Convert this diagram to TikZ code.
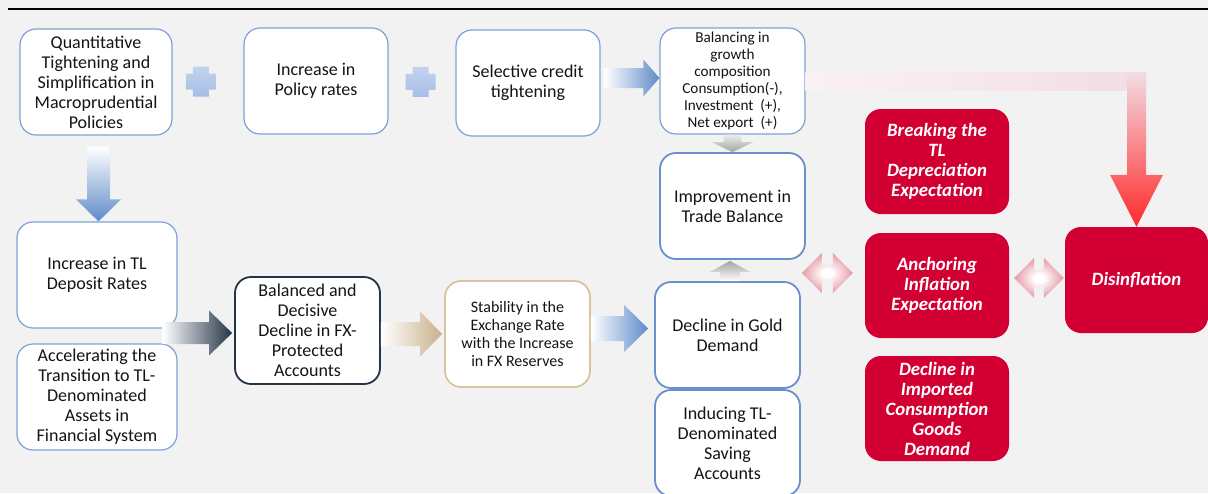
\documentclass[tikz,border=0pt]{standalone}
\usepackage{fontspec}
\setmainfont{Carlito}
\usetikzlibrary{calc}
\definecolor{bg}{HTML}{F2F2F2}
\definecolor{bl}{HTML}{7EA2D8}
\definecolor{bltwo}{HTML}{6990CC}
\definecolor{dk}{HTML}{243447}
\definecolor{tanc}{HTML}{D9C4A0}
\definecolor{rd}{HTML}{D20032}
\definecolor{txt}{HTML}{141414}
\definecolor{arrblue}{HTML}{5F8BC9}
\definecolor{arrtan}{HTML}{C9B08A}
\definecolor{lp}{HTML}{F2DDE4}
\definecolor{rr}{HTML}{FF2A2A}
\definecolor{dbl}{HTML}{DC7485}
\definecolor{gtop}{HTML}{EDEDED}
\definecolor{gbot}{HTML}{A3A3A3}
\definecolor{plusa}{HTML}{C3D3EE}
\definecolor{plusb}{HTML}{A6BDE5}
\pgfdeclareradialshading{dblshade}{\pgfpoint{0bp}{0bp}}{color(0bp)=(white); color(5bp)=(white); color(32bp)=(dbl); color(50bp)=(dbl)}
% horizontal block arrow: start, end, body half, head half, head length, shade options
\newcommand\hblock[6]{\shade[#6] let \p1=#1, \p2=#2 in
  (\x1,\y1+#3pt) -- (\x2-#5pt,\y1+#3pt) -- (\x2-#5pt,\y1+#4pt) -- (\x2,\y1)
  -- (\x2-#5pt,\y1-#4pt) -- (\x2-#5pt,\y1-#3pt) -- (\x1,\y1-#3pt) -- cycle;}
% downward block arrow
\newcommand\dnblock[6]{\shade[#6] let \p1=#1, \p2=#2 in
  (\x1-#3pt,\y1) -- (\x1-#3pt,\y2+#5pt) -- (\x1-#4pt,\y2+#5pt) -- (\x1,\y2)
  -- (\x1+#4pt,\y2+#5pt) -- (\x1+#3pt,\y2+#5pt) -- (\x1+#3pt,\y1) -- cycle;}
% upward block arrow
\newcommand\upblock[6]{\shade[#6] let \p1=#1, \p2=#2 in
  (\x1-#3pt,\y1) -- (\x1-#3pt,\y2-#5pt) -- (\x1-#4pt,\y2-#5pt) -- (\x1,\y2)
  -- (\x1+#4pt,\y2-#5pt) -- (\x1+#3pt,\y2-#5pt) -- (\x1+#3pt,\y1) -- cycle;}
% double block arrow
\newcommand\dblblock[5]{\shade[shading=dblshade] let \p1=#1, \p2=#2 in
  (\x1,\y1) -- (\x1+#5pt,\y1+#4pt) -- (\x1+#5pt,\y1+#3pt) -- (\x2-#5pt,\y1+#3pt)
  -- (\x2-#5pt,\y1+#4pt) -- (\x2,\y1) -- (\x2-#5pt,\y1-#4pt) -- (\x2-#5pt,\y1-#3pt)
  -- (\x1+#5pt,\y1-#3pt) -- (\x1+#5pt,\y1-#4pt) -- cycle;}
% plus sign
\newcommand\plussign[1]{\shade[top color=plusa, bottom color=plusb] let \p1=#1 in
  (\x1-8pt,\y1+15pt) -- (\x1+8pt,\y1+15pt) -- (\x1+8pt,\y1+8pt) -- (\x1+15pt,\y1+8pt)
  -- (\x1+15pt,\y1-8pt) -- (\x1+8pt,\y1-8pt) -- (\x1+8pt,\y1-15pt) -- (\x1-8pt,\y1-15pt)
  -- (\x1-8pt,\y1-8pt) -- (\x1-15pt,\y1-8pt) -- (\x1-15pt,\y1+8pt) -- (\x1-8pt,\y1+8pt) -- cycle;}
\tikzset{
  base/.style={rounded corners=16pt, fill=white, align=center, text=txt, inner sep=1pt,
    font=\fontsize{18}{20}\selectfont},
  bbox/.style={base, draw=bl, line width=1.2pt},
  bboxtwo/.style={base, draw=bltwo, line width=1.8pt},
  dbox/.style={base, draw=dk, line width=1.8pt},
  tbox/.style={base, draw=tanc, line width=1.8pt},
  rbox/.style={rounded corners=16pt, fill=rd, text=white, align=center, inner sep=1pt,
    font=\fontsize{18.8}{20}\selectfont\bfseries\itshape},
  sz/.style 2 args={minimum width=#1, minimum height=#2},
}
\begin{document}
\begin{tikzpicture}[x=1pt,y=-1pt]
\useasboundingbox (0,0) rectangle (1208,493);
\clip (0,0) rectangle (1208,493);
\fill[bg] (0,0) rectangle (1208,493);
\draw[line width=2pt, black] (8,8.5) -- (1208,8.5);

% nodes
\node[bbox, sz={152pt}{106pt}] (q) at (96,82) {Quantitative\\Tightening and\\Simplification in\\Macroprudential\\Policies};
\node[bbox, sz={144pt}{106pt}] (pol) at (316,81) {Increase in\\Policy rates};
\node[bbox, sz={144pt}{106pt}] (sel) at (528,83) {Selective credit\\tightening};
\node[bbox, sz={145pt}{106pt}, font=\fontsize{15.2}{17}\selectfont] (bal) at (732.5,81) {Balancing in\\growth\\composition\\Consumption(-),\\Investment~~(+),\\Net export~~(+)};
\node[bboxtwo, sz={145pt}{106pt}] (imp) at (732.5,206) {Improvement in\\Trade Balance};
\node[bboxtwo, sz={145pt}{106pt}] (gold) at (727.5,335) {Decline in Gold\\Demand};
\node[bboxtwo, sz={145pt}{106pt}] (ind) at (727.5,443) {Inducing TL-\\Denominated\\Saving\\Accounts};
\node[bbox, sz={160pt}{106pt}] (dep) at (97,275) {Increase in TL\\Deposit Rates};
\node[bbox, sz={160pt}{106pt}] (acc) at (97,397) {Accelerating the\\Transition to TL-\\Denominated\\Assets in\\Financial System};
\node[dbox, sz={145pt}{107pt}] (bfx) at (307.5,330.5) {Balanced and\\Decisive\\Decline in FX-\\Protected\\Accounts};
\node[tbox, sz={145pt}{106pt}, font=\fontsize{16}{18}\selectfont] (stab) at (517.5,334) {Stability in the\\Exchange Rate\\with the Increase\\in FX Reserves};
\node[rbox, sz={144pt}{105pt}] (brk) at (937,161.5) {Breaking the\\TL\\Depreciation\\Expectation};
\node[rbox, sz={144pt}{105pt}] (anc) at (937,285.5) {Anchoring\\Inflation\\Expectation};
\node[rbox, sz={144pt}{105pt}] (imc) at (937,408.5) {Decline in\\Imported\\Consumption\\Goods\\Demand};
\node[rbox, sz={143pt}{106pt}] (dis) at (1136.5,280) {Disinflation};

% plus signs
\plussign{($(q.east)!0.4!(pol.west)$)}
\plussign{($(pol.east)!0.48!(sel.west)$)}

% connectors
\hblock{($(sel.east)+(4,-5)$)}{(bal.west)}{10}{18.5}{16}{left color=white, right color=arrblue}
\dnblock{($(q.south)+(2.5,11)$)}{(dep.north)}{11.5}{22.5}{22}{top color=white, bottom color=arrblue}
\hblock{($(dep.east |- bfx.west)+(-15,2.5)$)}{($(bfx.west)+(-2,0)$)}{11}{22.5}{23}{left color=white, right color=dk}
\hblock{(bfx.east |- stab.west)}{($(stab.west)+(-2,0)$)}{12}{22.5}{22}{left color=white, right color=arrtan}
\hblock{($(stab.east)+(0,-5.5)$)}{($(gold.west)+(-6,0)$)}{12.5}{23.5}{24}{left color=white, right color=arrblue}
\dnblock{(bal.south)}{(imp.north)}{9}{21}{10}{top color=gtop, bottom color=gbot}
\upblock{($(gold.north)+(2.5,0)$)}{($(imp.south)+(0,1)$)}{10}{20}{11}{top color=gbot, bottom color=white}
\dblblock{($(anc.west)+(-63,-12.5)$)}{($(anc.west)+(-12,0)$)}{8}{20}{20}
\dblblock{($(anc.east)+(5,-7.5)$)}{($(dis.west)+(-1,0)$)}{8}{20}{20}

% red L-shaped arrow
\shade[left color=lp!40!white, right color=lp] let \p1=(bal.east), \p2=(dis.north) in
  (\x1,\y1+9pt) rectangle (\x2+9.5pt,\y1-9pt);
\shade[top color=lp, bottom color=rr] let \p1=(bal.east), \p2=(dis.north) in
  (\x2-9.5pt,\y1+9pt) -- (\x2-9.5pt,\y2+52pt) -- (\x2-26.5pt,\y2+52pt) -- (\x2,\y2)
  -- (\x2+26.5pt,\y2+52pt) -- (\x2+9.5pt,\y2+52pt) -- (\x2+9.5pt,\y1+9pt) -- cycle;
\end{tikzpicture}
\end{document}
